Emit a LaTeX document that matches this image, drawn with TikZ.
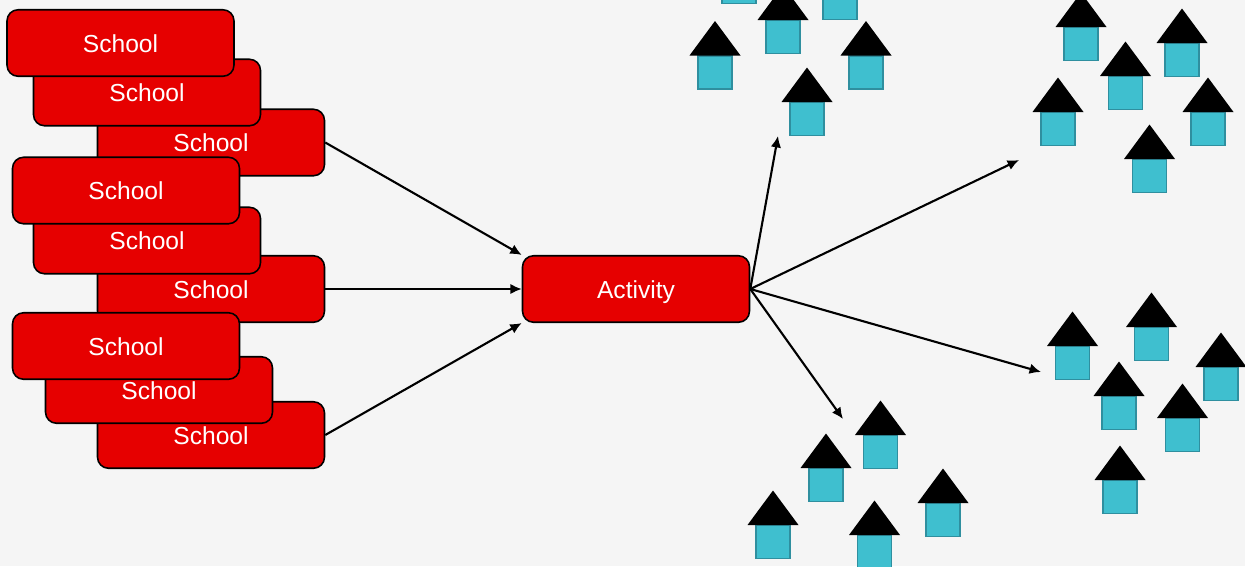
\documentclass[tikz,border=0pt]{standalone}
\usepackage{fontspec}
\setmainfont{Liberation Sans}
\usepackage{xcolor}
\usetikzlibrary{calc,arrows.meta}
\definecolor{bgrey}{HTML}{F5F5F5}
\definecolor{boxred}{HTML}{E60000}
\definecolor{wall}{HTML}{3FBFCF}
\definecolor{wallline}{HTML}{2F8F9F}
\tikzstyle{redbox}=[draw=black, fill=boxred, text=white, line width=0.9pt, rounded corners=0.22cm, minimum width=4.54cm, minimum height=1.33cm, inner ysep=0pt, text height=10.8pt, text depth=0pt, font=\fontsize{14}{16}\selectfont]
\tikzstyle{link}=[-{Latex[length=6.5pt,width=6pt]}, line width=1.2pt]
\begin{document}
\begin{tikzpicture}[x=0.02cm,y=-0.02cm]
\useasboundingbox (0,0) rectangle (1245,566);
\clip (0,0) rectangle (1245,566);
\fill[bgrey] (0,0) rectangle (1245,566);
% schools
\foreach \n/\x/\y in {a/211/142.5,b/147/92.5,c/120.5/43,d/211/289,e/147/240.5,f/126/190.5,g/211/435,h/159/390,i/126/346} {
	\node[redbox] (\n) at (\x,\y) {School};
}
\node[redbox] (act) at (636,289) {Activity};
% houses
\foreach \x/\y in {739/-30,783/20,840/-14,715/55.5,866/55.5,807/102,
	1081/27,1182/43,1125.5/76,1058/112,1208/112,1149.5/159,
	1072.5/346,1151.5/327,1221/367,1119/396,1182.5/418,1120/480,
	880.5/435,826/468,943/503,773/525,874.5/535} {
	\coordinate (h) at (\x,\y);
	\draw[wallline, fill=wall, line width=1.1pt] ($(h)+(-17,0.5)$) rectangle ($(h)+(17,33.5)$);
	\fill[black] ($(h)+(-25.5,0)$) -- ($(h)+(0,-34.5)$) -- ($(h)+(25.5,0)$) -- cycle;
}
% free ends
\coordinate (t1) at (778,136);
\coordinate (t2) at (1019,160);
\coordinate (t3) at (1041,372);
\coordinate (t4) at (843,419);
\draw[link] (a.east) -- (act.north west);
\draw[link] (d.east) -- (act.west);
\draw[link] (g.east) -- (act.south west);
\draw[link] (act.east) -- (t1);
\draw[link] (act.east) -- (t2);
\draw[link] (act.east) -- (t3);
\draw[link] (act.east) -- (t4);
\end{tikzpicture}
\end{document}
